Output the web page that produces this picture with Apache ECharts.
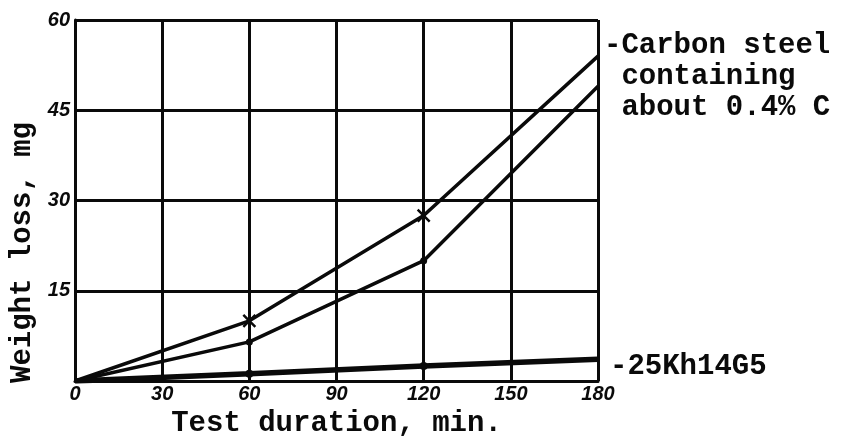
<!DOCTYPE html>
<html>
<head>
<meta charset="utf-8">
<script src="https://cdn.jsdelivr.net/npm/echarts@6/dist/echarts.min.js"></script>
<style>
  html, body { margin: 0; padding: 0; background: #fff; }
  #chart { width: 848px; height: 438px; }
</style>
</head>
<body>
<div id="chart"></div>
<script>
// test duration, min
const durations = [0, 30, 60, 90, 120, 150, 180]
// weight loss, mg
const carbonUpper = [[0, 0], [60, 10], [120, 27.5], [180, 54]]
const carbonLower = [[0, 0], [60, 6.5], [120, 20], [180, 49]]
const kh14g5 = [[0, 0], [60, 1.2], [120, 2.5], [180, 3.6]]
const yTicks = [0, 15, 30, 45, 60]

const ink = '#0a0a0a'
const mono = '"Liberation Mono", "DejaVu Sans Mono", monospace'
const crossPath = 'path://M0,0 L10,10 M10,0 L0,10 M0,0 L10,10'

const chart = echarts.init(document.getElementById('chart'), null, { renderer: 'canvas' })

function marked(points, symbol, size) {
  return points.map((p, i) => {
    const inner = i > 0 && i < points.length - 1
    return inner ? { value: p, symbol, symbolSize: size } : { value: p, symbol: 'none' }
  })
}

const tickText = {
  color: ink, fontSize: 20, fontWeight: 'bold', fontStyle: 'italic',
  fontFamily: '"Liberation Sans", "DejaVu Sans", sans-serif'
}

chart.setOption({
  animation: false,
  backgroundColor: '#fff',
  grid: { left: 75, right: 250, top: 20, bottom: 57, outerBoundsMode: 'none', containLabel: false },
  xAxis: {
    type: 'value', min: durations[0], max: durations[durations.length - 1], interval: 30,
    name: 'Test duration, min.', nameLocation: 'middle', nameGap: 14,
    nameTextStyle: { color: ink, fontSize: 29, fontWeight: 'bold', fontFamily: mono },
    axisLine: { lineStyle: { color: ink, width: 3 } },
    axisTick: { show: false },
    axisLabel: { ...tickText, margin: 3 },
    splitLine: { lineStyle: { color: ink, width: 3 } }
  },
  yAxis: {
    type: 'value', min: yTicks[0], max: yTicks[yTicks.length - 1], interval: 15,
    name: 'Weight loss, mg', nameLocation: 'middle', nameGap: 37,
    nameTextStyle: { color: ink, fontSize: 29, fontWeight: 'bold', fontFamily: mono, padding: [0, 104, 0, 0] },
    axisLine: { show: true, lineStyle: { color: ink, width: 3 } },
    axisTick: { show: false },
    axisLabel: { ...tickText, margin: 5, showMinLabel: false },
    splitLine: { lineStyle: { color: ink, width: 3 } }
  },
  series: [
    {
      type: 'line', name: 'Carbon steel (upper)',
      data: marked(carbonUpper, crossPath, 12),
      lineStyle: { color: ink, width: 3.5 },
      itemStyle: { color: '#fff', borderColor: ink, borderWidth: 2.5 }
    },
    {
      type: 'line', name: 'Carbon steel (lower)',
      data: marked(carbonLower, 'circle', 7),
      lineStyle: { color: ink, width: 3.5 },
      itemStyle: { color: ink }
    },
    {
      type: 'line', name: '25Kh14G5',
      data: marked(kh14g5, 'circle', 8),
      lineStyle: { color: ink, width: 5.5 },
      itemStyle: { color: ink }
    }
  ],
  graphic: [
    {
      type: 'text', left: 604, top: 30,
      style: {
        text: '-Carbon steel\n containing\n about 0.4% C',
        fill: ink, font: 'bold 29px ' + mono, lineHeight: 31
      }
    },
    {
      type: 'text', left: 610, top: 352,
      style: { text: '-25Kh14G5', fill: ink, font: 'bold 29px ' + mono }
    }
  ]
})
</script>
</body>
</html>
